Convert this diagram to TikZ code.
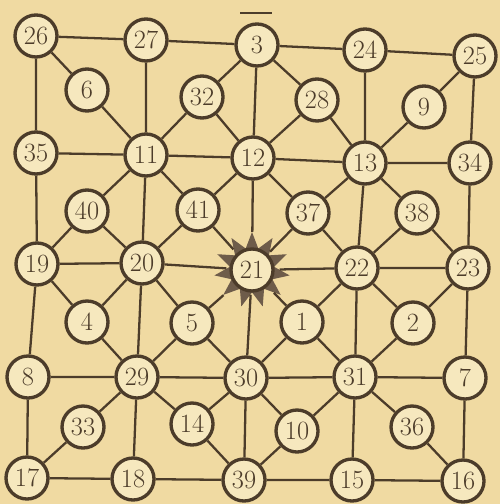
\documentclass[tikz,border=0pt]{standalone}
\usetikzlibrary{shapes.geometric}

\definecolor{paper}{RGB}{240,218,162}
\definecolor{cream}{RGB}{246,232,190}
\definecolor{ink}{RGB}{76,60,42}
\definecolor{sunink}{RGB}{110,92,74}

\begin{document}
\begin{tikzpicture}[
  every node/.style={font=\fontsize{15}{15}\selectfont, text=ink},
  cellnode/.style={circle, draw=ink, fill=cream, line width=1.9pt, minimum size=8.4mm, inner sep=0pt},
  sunnode/.style={star, star points=11, star point ratio=1.7, fill=sunink, draw=none, minimum size=15.2mm},
  link/.style={draw=ink, line width=1.3pt}
]
  \fill[paper] (0,0) rectangle (10,-10.08);
  \useasboundingbox (0,0) rectangle (10,-10.08);

  \node[cellnode] (n26) at (0.72,-0.72) {26};
  \node[cellnode] (n27) at (2.92,-0.80) {27};
  \node[cellnode] (n3)  at (5.14,-0.90) {3};
  \node[cellnode] (n24) at (7.30,-1.00) {24};
  \node[cellnode] (n25) at (9.50,-1.12) {25};

  \node[cellnode] (n6)  at (1.74,-1.80) {6};
  \node[cellnode] (n32) at (4.04,-1.94) {32};
  \node[cellnode] (n28) at (6.34,-2.00) {28};
  \node[cellnode] (n9)  at (8.48,-2.14) {9};

  \node[cellnode] (n35) at (0.72,-3.06) {35};
  \node[cellnode] (n11) at (2.92,-3.10) {11};
  \node[cellnode] (n12) at (5.06,-3.16) {12};
  \node[cellnode] (n13) at (7.30,-3.26) {13};
  \node[cellnode] (n34) at (9.40,-3.26) {34};

  \node[cellnode] (n40) at (1.74,-4.22) {40};
  \node[cellnode] (n41) at (3.96,-4.20) {41};
  \node[cellnode] (n37) at (6.16,-4.26) {37};
  \node[cellnode] (n38) at (8.34,-4.26) {38};

  \node[cellnode] (n19) at (0.74,-5.28) {19};
  \node[cellnode] (n20) at (2.84,-5.26) {20};
  \node[sunnode]  (sun) at (5.04,-5.40) {};
  \node[cellnode] (n21) at (sun) {21};
  \node[cellnode] (n22) at (7.14,-5.36) {22};
  \node[cellnode] (n23) at (9.36,-5.36) {23};

  \node[cellnode] (n4)  at (1.74,-6.44) {4};
  \node[cellnode] (n5)  at (3.84,-6.46) {5};
  \node[cellnode] (n1)  at (6.04,-6.44) {1};
  \node[cellnode] (n2)  at (8.26,-6.46) {2};

  \node[cellnode] (n8)  at (0.56,-7.54) {8};
  \node[cellnode] (n29) at (2.74,-7.54) {29};
  \node[cellnode] (n30) at (4.92,-7.56) {30};
  \node[cellnode] (n31) at (7.10,-7.54) {31};
  \node[cellnode] (n7)  at (9.30,-7.56) {7};

  \node[cellnode] (n33) at (1.66,-8.54) {33};
  \node[cellnode] (n14) at (3.84,-8.48) {14};
  \node[cellnode] (n10) at (5.94,-8.62) {10};
  \node[cellnode] (n36) at (8.24,-8.54) {36};

  \node[cellnode] (n17) at (0.54,-9.56) {17};
  \node[cellnode] (n18) at (2.66,-9.58) {18};
  \node[cellnode] (n39) at (4.88,-9.60) {39};
  \node[cellnode] (n15) at (7.04,-9.60) {15};
  \node[cellnode] (n16) at (9.26,-9.62) {16};

  \draw[link] (n26) -- (n27) -- (n3) -- (n24) -- (n25);
  \draw[link] (n35) -- (n11) -- (n12) -- (n13) -- (n34);
  \draw[link] (n19) -- (n20) -- (sun) -- (n22) -- (n23);
  \draw[link] (n8) -- (n29) -- (n30) -- (n31) -- (n7);
  \draw[link] (n17) -- (n18) -- (n39) -- (n15) -- (n16);

  \draw[link] (n26) -- (n35) -- (n19) -- (n8) -- (n17);
  \draw[link] (n27) -- (n11) -- (n20) -- (n29) -- (n18);
  \draw[link] (n3) -- (n12) -- (sun) -- (n30) -- (n39);
  \draw[link] (n24) -- (n13) -- (n22) -- (n31) -- (n15);
  \draw[link] (n25) -- (n34) -- (n23) -- (n7) -- (n16);

  \draw[link] (n26) -- (n6) -- (n11);
  \draw[link] (n3) -- (n32) -- (n11) (n32) -- (n12);
  \draw[link] (n3) -- (n28) -- (n13) (n28) -- (n12);
  \draw[link] (n25) -- (n9) -- (n13);

  \draw[link] (n11) -- (n40) -- (n19) (n40) -- (n20);
  \draw[link] (n11) -- (n41) -- (sun) (n12) -- (n41) -- (n20);
  \draw[link] (n12) -- (n37) -- (n22) (n13) -- (n37) -- (sun);
  \draw[link] (n13) -- (n38) -- (n23) (n38) -- (n22);

  \draw[link] (n19) -- (n4) -- (n29) (n4) -- (n20);
  \draw[link] (n20) -- (n5) -- (n30) (sun) -- (n5) -- (n29);
  \draw[link] (sun) -- (n1) -- (n31) (n22) -- (n1) -- (n30);
  \draw[link] (n23) -- (n2) -- (n31) (n2) -- (n22);

  \draw[link] (n29) -- (n33) -- (n17);
  \draw[link] (n29) -- (n14) -- (n39) (n14) -- (n30);
  \draw[link] (n31) -- (n10) -- (n39) (n10) -- (n30);
  \draw[link] (n31) -- (n36) -- (n16);

  \draw[link] (4.80,-0.26) -- (5.44,-0.26);
\end{tikzpicture}
\end{document}
